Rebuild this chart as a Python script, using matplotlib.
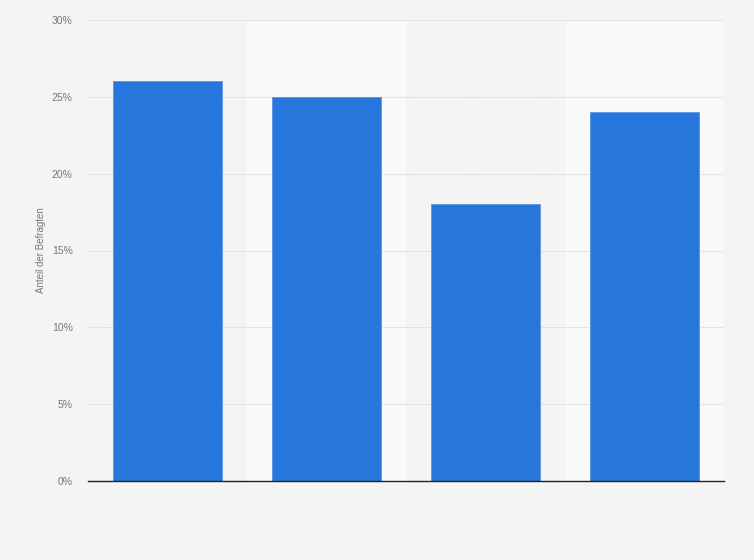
import matplotlib.pyplot as plt
from matplotlib.ticker import FuncFormatter

plt.rcParams['font.family'] = ['Liberation Sans', 'DejaVu Sans']

# values (no category labels are shown)
categories = ['', ' ', '  ', '   ']
shares = [26, 25, 18, 24]
y_ticks = [0, 5, 10, 15, 20, 25, 30]

fig = plt.figure(figsize=(7.54, 5.6), dpi=100)
fig.patch.set_facecolor('#f4f4f4')
ax = fig.add_axes([88 / 754, 79 / 560, 636 / 754, 461 / 560])
ax.set_facecolor('#f4f4f4')

x = list(range(len(categories)))
# lighter bands behind every second category
for i in x:
    if i % 2 == 1:
        ax.axvspan(i - 0.5, i + 0.5, color='#f9f9f9', zorder=0, lw=0)

ax.bar(x, shares, width=0.69, color='#2776db', edgecolor='#5a95e4', linewidth=0.6, zorder=3)

ax.set_xlim(-0.5, len(categories) - 0.5)
ax.set_ylim(0, 30)
ax.set_yticks(y_ticks)
ax.yaxis.set_major_formatter(FuncFormatter(lambda v, p: '%d%%' % v))
ax.set_xticks(x)
ax.set_xticklabels(categories)
ax.tick_params(axis='y', length=0, pad=11, labelsize=7.5, labelcolor='#777777')
ax.tick_params(axis='x', length=0)
ax.grid(axis='y', color='#cfcfcf', linestyle=(0, (1, 1)), linewidth=0.7, zorder=1)

for s in ['top', 'right', 'left']:
    ax.spines[s].set_visible(False)
ax.spines['bottom'].set_color('#222222')
ax.spines['bottom'].set_linewidth(1.0)
ax.spines['bottom'].set_zorder(4)

ax.set_ylabel('Anteil der Befragten', fontsize=7, color='#777777', labelpad=4)

fig.savefig('out.png', dpi=100, facecolor=fig.get_facecolor())
